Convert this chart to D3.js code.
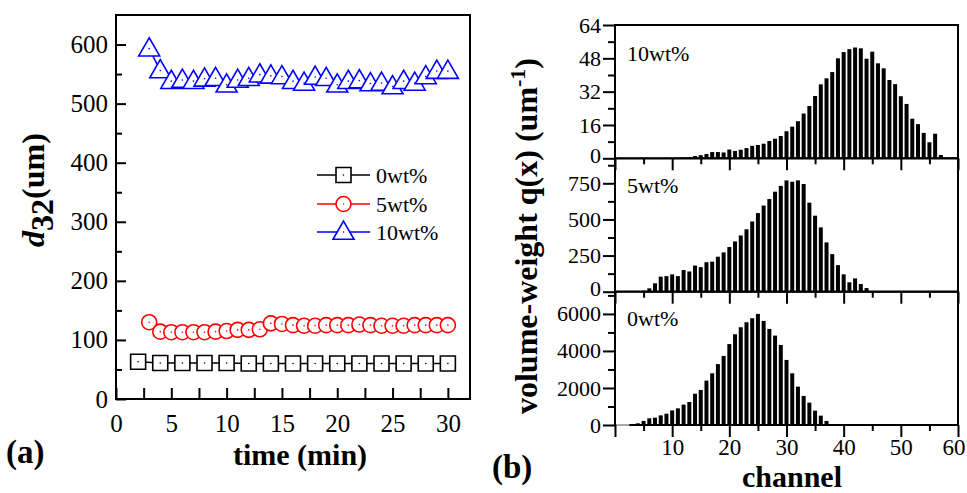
<!DOCTYPE html>
<html><head><meta charset="utf-8">
<script src="https://cdn.jsdelivr.net/npm/d3@7"></script>
<style>
body{margin:0;background:#fff}
svg text{font-family:"Liberation Serif","Times New Roman",serif;fill:#000}
</style>
</head><body>
<svg id="chart" width="967" height="493"></svg>
<script>
// ---------- Panel (a) data ----------
const seriesNames = ["0wt%", "5wt%", "10wt%"];
const time0 = [2,4,6,8,10,12,14,16,18,20,22,24,26,28,30];
const d32_0 = [63,61,61,61,61,60,60,60,60,60,60,60,60,60,60];
const time5 = [3,4,5,6,7,8,9,10,11,12,13,14,15,16,17,18,19,20,21,22,23,24,25,26,27,28,29,30];
const d32_5 = [130,114,113,113,113,113,114,115,117,117,118,128,127,125,124,124,125,125,125,126,125,124,124,124,125,125,125,125];
const time10 = [3,4,5,6,7,8,9,10,11,12,13,14,15,16,17,18,19,20,21,22,23,24,25,26,27,28,29,30];
const d32_10 = [593,556,538,540,538,542,543,532,540,543,549,547,546,538,535,545,543,532,538,539,534,535,529,538,535,546,555,555];
const timeTicks = [0,5,10,15,20,25,30];
const d32Ticks = [0,100,200,300,400,500,600];

// ---------- Panel (b) data ----------
const channelTicks = [10,20,30,40,50,60];
const start10 = 12;
const q10 = [0.2,0.4,1.1,1.5,2.1,3.0,3.0,2.8,4.2,3.5,4.1,4.9,6.0,6.4,7.0,8.3,9.4,10.7,13.0,15.2,17.8,21.5,25.1,29.9,35.5,38.4,41.4,48.0,51.0,52.4,53.2,52.8,47.8,51.2,45.6,43.2,37.6,35.6,29.8,26.1,19.0,16.4,12.2,7.7,11.8,1.6];
const start5 = 5;
const q5 = [7,23,58,104,108,120,108,150,140,181,170,204,208,242,272,309,348,389,432,486,544,596,641,692,732,770,761,770,745,616,526,445,341,260,184,120,65,92,53,25];
const start0 = 3;
const q0 = [36,90,220,360,396,520,610,790,900,1100,1240,1690,1892,2397,2793,3290,3730,4370,4901,5280,5550,5766,6000,5622,5190,4829,4325,3514,2793,2072,1570,1207,775,505,216];
const ticks10 = [0,16,32,48,64];
const ticks5 = [0,250,500,750];
const ticks0 = [0,2000,4000,6000];

const svg = d3.select("#chart");

// ================= Panel (a) =================
const xA = d3.scaleLinear().domain([0,32]).range([116,470]);
const yA = d3.scaleLinear().domain([0,650]).range([399,15]);
const gA = svg.append("g");

const yMinor = d3.range(50,650,100);
gA.append("g").attr("transform",`translate(${xA(0)},0)`)
  .call(d3.axisLeft(yA).tickValues(yMinor).tickSize(-6).tickFormat(""))
  .call(g=>g.select(".domain").remove())
  .call(g=>g.selectAll("line").attr("stroke-width",2));
gA.append("g").attr("transform",`translate(${xA(0)},0)`)
  .call(d3.axisLeft(yA).tickValues(d32Ticks).tickSize(-10).tickPadding(8).tickFormat(d3.format("d")))
  .call(g=>g.select(".domain").remove())
  .call(g=>g.selectAll("line").attr("stroke-width",2))
  .call(g=>g.selectAll("text").attr("font-size",25).attr("font-family","Liberation Serif"));
const xMinor = d3.range(2.5,32,5);
gA.append("g").attr("transform",`translate(0,${yA(0)})`)
  .call(d3.axisBottom(xA).tickValues(xMinor).tickSize(-11).tickFormat(""))
  .call(g=>g.select(".domain").remove())
  .call(g=>g.selectAll("line").attr("stroke-width",2));
gA.append("g").attr("transform",`translate(0,${yA(0)})`)
  .call(d3.axisBottom(xA).tickValues(timeTicks).tickSize(-11).tickPadding(15).tickFormat(d3.format("d")))
  .call(g=>g.select(".domain").remove())
  .call(g=>g.selectAll("line").attr("stroke-width",2))
  .call(g=>g.selectAll("text").attr("font-size",25).attr("font-family","Liberation Serif"));

gA.append("rect").attr("x",xA(0)).attr("y",yA(650)).attr("width",xA(32)-xA(0)).attr("height",yA(0)-yA(650))
  .attr("fill","none").attr("stroke","#000").attr("stroke-width",2);

const colors = ["#000000","#ff0000","#0000ff"];
function sqPath(s){return `M${-s/2},${-s/2}h${s}v${s}h${-s}Z`;}
function triPath(s){const h=s*0.866;return `M0,${-h*0.6}L${s/2},${h*0.4}L${-s/2},${h*0.4}Z`;}
function marker(g, type, col){
  if(type===0) g.append("path").attr("d",sqPath(15));
  else if(type===1) g.append("circle").attr("r",7.5);
  else g.append("path").attr("d",triPath(21));
  g.selectAll("path,circle").attr("fill","#fff").attr("stroke",col).attr("stroke-width",1.6);
  g.append("circle").attr("r",0.8).attr("fill",col);
}
const series = [[time0,d32_0],[time5,d32_5],[time10,d32_10]];
series.forEach(([t,v],i)=>{
  const pts = t.map((d,j)=>[d,v[j]]);
  gA.append("path").datum(pts)
    .attr("d",d3.line().x(d=>xA(d[0])).y(d=>yA(d[1])))
    .attr("fill","none").attr("stroke",colors[i]).attr("stroke-width",1.6);
  pts.forEach(p=>{
    const g = gA.append("g").attr("transform",`translate(${xA(p[0])},${yA(p[1])})`);
    marker(g,i,colors[i]);
  });
});
// legend
const legY = [175,204,232];
seriesNames.forEach((n,i)=>{
  gA.append("line").attr("x1",317).attr("x2",370).attr("y1",legY[i]).attr("y2",legY[i])
    .attr("stroke",colors[i]).attr("stroke-width",1.6);
  marker(gA.append("g").attr("transform",`translate(343.5,${legY[i]})`), i, colors[i]);
  gA.append("text").attr("x",376).attr("y",legY[i]+7.5).attr("font-size",22).text(n);
});
// titles
const ty = gA.append("text").attr("transform","translate(44,190) rotate(-90)")
  .attr("text-anchor","middle").attr("font-size",32).attr("font-weight","bold");
ty.append("tspan").attr("font-style","italic").text("d");
ty.append("tspan").attr("dy",9).text("32");
ty.append("tspan").attr("dy",-9).text("(um)");
gA.append("text").attr("x",300).attr("y",465).attr("text-anchor","middle")
  .attr("font-size",30).attr("font-weight","bold").text("time (min)");
gA.append("text").attr("x",6).attr("y",463).attr("font-size",33).attr("font-weight","bold").text("(a)");

// ================= Panel (b) =================
const xB = d3.scaleLinear().domain([0,60]).range([615,958]);
const panels = [
  {label:"10wt%", start:start10, vals:q10, max:64, ticks:ticks10, minorStep:8, bottom:158.3, top:25},
  {label:"5wt%", start:start5, vals:q5, max:923, ticks:ticks5, minorStep:125, bottom:291.7, top:158.3},
  {label:"0wt%", start:start0, vals:q0, max:7200, ticks:ticks0, minorStep:1000, bottom:425, top:291.7}
];
const labelY = [61,193,326];
panels.forEach((p,k)=>{
  const g = svg.append("g");
  const y = d3.scaleLinear().domain([0,p.max]).range([p.bottom,p.top]);
  const data = p.vals.map((v,j)=>({ch:p.start+j, v}));
  g.selectAll("rect.bar").data(data).join("rect").attr("class","bar")
    .attr("x",d=>xB(d.ch)-2).attr("width",4)
    .attr("y",d=>y(d.v)).attr("height",d=>y(0)-y(d.v)).attr("fill","#000");
  g.append("rect").attr("x",xB(0)).attr("y",p.top).attr("width",xB(60)-xB(0)).attr("height",p.bottom-p.top)
    .attr("fill","none").attr("stroke","#000").attr("stroke-width",2);
  g.append("line").attr("x1",xB(0)+1).attr("x2",xB(p.start-0.5)).attr("y1",y(0)).attr("y2",y(0))
    .attr("stroke","#aaa").attr("stroke-width",2);
  const minor = d3.range(p.minorStep, p.max, p.minorStep*2);
  g.append("g").attr("transform",`translate(${xB(0)},0)`)
    .call(d3.axisLeft(y).tickValues(minor).tickSize(7).tickFormat(""))
    .call(a=>a.select(".domain").remove()).call(a=>a.selectAll("line").attr("stroke-width",2));
  g.append("g").attr("transform",`translate(${xB(0)},0)`)
    .call(d3.axisLeft(y).tickValues(p.ticks).tickSize(12).tickPadding(2).tickFormat(d3.format("d")))
    .call(a=>a.select(".domain").remove()).call(a=>a.selectAll("line").attr("stroke-width",2))
    .call(a=>a.selectAll("text").attr("font-size",22).attr("font-family","Liberation Serif"))
    .call(a=>{ if(k<2) a.selectAll("text").filter(d=>d===0).attr("y",-3); });
  g.append("g").attr("transform",`translate(0,${p.bottom})`)
    .call(d3.axisBottom(xB).tickValues(d3.range(5,60,10)).tickSize(6).tickFormat(""))
    .call(a=>a.select(".domain").remove()).call(a=>a.selectAll("line").attr("stroke-width",2));
  g.append("g").attr("transform",`translate(0,${p.bottom})`)
    .call(d3.axisBottom(xB).tickValues([0].concat(channelTicks)).tickSize(12).tickPadding(2)
      .tickFormat(d=> (k===2 && d>0) ? d : ""))
    .call(a=>a.select(".domain").remove()).call(a=>a.selectAll("line").attr("stroke-width",2))
    .call(a=>a.selectAll("text").attr("font-size",23).attr("font-family","Liberation Serif"))
    .call(a=>a.selectAll("text").filter(d=>d===60).attr("text-anchor","end").attr("dx",7));
  g.append("text").attr("x",627).attr("y",labelY[k]).attr("font-size",22).text(p.label);
});
const tr = svg.append("text").attr("transform","translate(537,236) rotate(-90)")
  .attr("text-anchor","middle").attr("font-size",32).attr("font-weight","bold");
tr.append("tspan").text("volume-weight q(x) (um");
tr.append("tspan").attr("dy",-12).attr("font-size",22).text("-1");
tr.append("tspan").attr("dy",12).text(")");
svg.append("text").attr("x",792).attr("y",487).attr("text-anchor","middle")
  .attr("font-size",30).attr("font-weight","bold").text("channel");
svg.append("text").attr("x",492).attr("y",478).attr("font-size",33).attr("font-weight","bold").text("(b)");
</script>
</body></html>
